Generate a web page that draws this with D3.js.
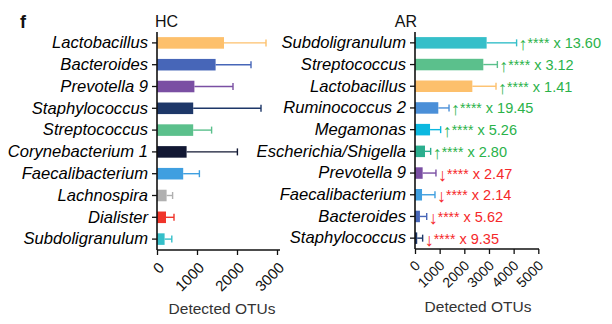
<!DOCTYPE html>
<html><head><meta charset="utf-8">
<script src="https://cdn.jsdelivr.net/npm/d3@7"></script>
<style>
body{margin:0;background:#fff;}
svg{display:block;font-family:"Liberation Sans",Arial,sans-serif;}
</style></head>
<body><svg id="c" width="612" height="324"></svg>
<script>
// ---- data ----
const hcCategories = ["Lactobacillus","Bacteroides","Prevotella 9","Staphylococcus","Streptococcus","Corynebacterium 1","Faecalibacterium","Lachnospira","Dialister","Subdoligranulum"];
const hcMeans = [1675,1465,935,905,905,740,655,240,225,190];
const hcSD    = [1050,885,965,1695,460,1270,405,150,200,180];
const hcColors = ["#fdc06c","#4766b8","#7a4fa3","#1d3768","#5bc08c","#121833","#3f9fe0","#b0b0b0","#f0342a","#35bfc9"];

const arCategories = ["Subdoligranulum","Streptococcus","Lactobacillus","Ruminococcus 2","Megamonas","Escherichia/Shigella","Prevotella 9","Faecalibacterium","Bacteroides","Staphylococcus"];
const arMeans = [2905,2770,2325,945,610,405,310,285,200,90];
const arSD    = [1215,570,960,435,430,230,540,525,275,220];
const arColors = ["#35bfc9","#5bc08c","#fdc06c","#4a8fd8","#0cb8e0","#2bae8e","#7a4fa3","#3f9fe0","#4766b8","#1d3768"];
const arDirection = ["up","up","up","up","up","up","down","down","down","down"];
const arFold = ["13.60","3.12","1.41","19.45","5.26","2.80","2.47","2.14","5.62","9.35"];

const hcTicks = [0,1000,2000,3000];
const arTicks = [0,1000,2000,3000,4000,5000];

const svg = d3.select("#c");

function panel(o){
  const g = svg.append("g");
  const x = d3.scaleLinear().domain([0,o.max]).range([o.x0,o.x1]);
  const y = d3.scaleBand().domain(o.cats).range([o.y0,o.y1]).paddingInner(0.47).paddingOuter(0.235);
  const bh = y.bandwidth();
  // bars
  g.selectAll("rect.bar").data(o.cats).join("rect")
    .attr("x",x(0)).attr("y",d=>y(d))
    .attr("width",(d,i)=>x(o.means[i])-x(0)).attr("height",bh)
    .attr("fill",(d,i)=>o.colors[i]);
  // error bars
  o.cats.forEach((d,i)=>{
    const cy = y(d)+bh/2;
    const xa = x(o.means[i]), xb = x(o.means[i]+o.sd[i]);
    g.append("line").attr("x1",xa).attr("x2",xb).attr("y1",cy).attr("y2",cy)
      .attr("stroke",o.colors[i]).attr("stroke-width",1.4);
    g.append("line").attr("x1",xb).attr("x2",xb).attr("y1",cy-3.5).attr("y2",cy+3.5)
      .attr("stroke",o.colors[i]).attr("stroke-width",1.4);
  });
  // y axis
  const ya = g.append("g").attr("transform",`translate(${o.x0},0)`)
    .call(d3.axisLeft(y).tickSize(5).tickPadding(4));
  ya.select(".domain").attr("d",`M0,${o.y0}V${o.y1}`).attr("stroke","#111").attr("stroke-width",1.6);
  ya.selectAll(".tick line").attr("stroke","#111").attr("stroke-width",1.3);
  ya.selectAll(".tick text").attr("font-size","16.6px").attr("font-style","italic")
    .attr("fill","#000").attr("font-family","'Liberation Sans',Arial,sans-serif");
  // x axis
  const xa = g.append("g").attr("transform",`translate(0,${o.y1})`)
    .call(d3.axisBottom(x).tickValues(o.ticks).tickSize(5).tickFormat(d3.format("d")));
  xa.select(".domain").attr("d",`M${o.x0},0H${o.xEnd}`).attr("stroke","#111").attr("stroke-width",1.6);
  xa.selectAll(".tick line").attr("stroke","#111").attr("stroke-width",1.3);
  xa.selectAll(".tick text").attr("y",null).attr("dy","0.35em")
    .attr("text-anchor","end").attr("font-size",o.tfs).attr("fill","#111")
    .attr("transform",`translate(${o.tdx},${o.tdy}) rotate(-45)`)
    .attr("font-family","'Liberation Sans',Arial,sans-serif");
  // axis title
  g.append("text").attr("x",o.titleX).attr("y",o.titleY).attr("text-anchor","middle")
    .attr("font-size","15.5px").attr("fill","#333").text("Detected OTUs");
  // panel label
  g.append("text").attr("x",o.pX).attr("y",27).attr("text-anchor",o.pAnchor)
    .attr("font-size","16px").attr("fill","#111").text(o.name);
  return {x,y,bh,g};
}

panel({cats:hcCategories,means:hcMeans,sd:hcSD,colors:hcColors,max:3000,x0:157,x1:277,xEnd:280,
  y0:32,y1:250,ticks:hcTicks,tfs:"15px",tdx:4,tdy:15,titleX:222,titleY:314,name:"HC",pX:155,pAnchor:"start"});

const ar = panel({cats:arCategories,means:arMeans,sd:arSD,colors:arColors,max:5000,x0:415,x1:538.3,xEnd:539,
  y0:32,y1:249,ticks:arTicks,tfs:"14px",tdx:2,tdy:14,titleX:478,titleY:311.5,name:"AR",pX:417,pAnchor:"end"});

// annotations
arCategories.forEach((d,i)=>{
  const up = arDirection[i]==="up";
  const col = up ? "#2ab24a" : "#f5282a";
  const ax = ar.x(arMeans[i]+arSD[i]) + 2;
  const ay = ar.y(d)+ar.bh/2 + 5.5;
  ar.g.append("text").attr("x",ax).attr("y",ay+2)
    .attr("font-size","18px").attr("fill",col).text(up ? "\u2191" : "\u2193");
  const t = ar.g.append("text")
    .attr("x", ax + 9).attr("y", ay)
    .attr("font-size","14px").attr("fill",col);
  t.append("tspan").text("****");
  t.append("tspan").attr("font-size","14.5px").text(" x " + arFold[i]);
});

// panel letter
svg.append("text").attr("x",20).attr("y",28).attr("font-weight","bold").attr("font-size","18px")
  .attr("fill","#111").text("f");
</script></body></html>
